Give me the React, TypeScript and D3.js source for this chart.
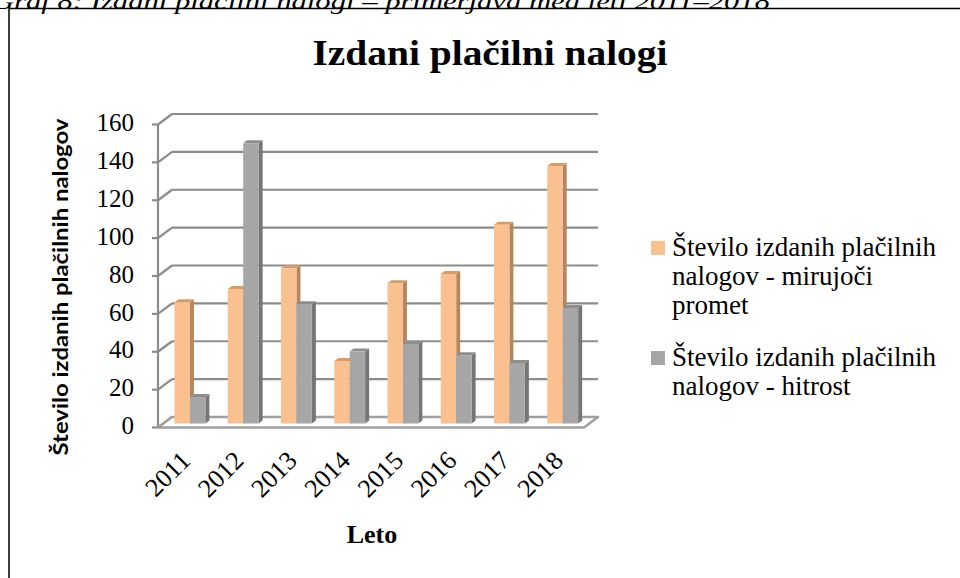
import * as d3 from "d3";

const years = ["2011", "2012", "2013", "2014", "2015", "2016", "2017", "2018"];
const parkingOrders = [64, 71, 82, 33, 74, 79, 105, 136];
const speedOrders = [14, 148, 63, 38, 42, 36, 32, 61];
const yTicks = [0, 20, 40, 60, 80, 100, 120, 140, 160];

const seriesNames = ["mirujoci", "hitrost"];
const legendLines = [
  ["Število izdanih plačilnih", "nalogov - mirujoči", "promet"],
  ["Število izdanih plačilnih", "nalogov - hitrost"],
];

// faces: front, side, top
const palette = {
  mirujoci: ["#FAC090", "#B5875F", "#CF9F73"],
  hitrost: ["#A6A6A6", "#767676", "#8E8E8E"],
};

const W = 960;
const H = 578;

// oblique depth of the floor / side wall
const DEPTH_X = 14;
const DEPTH_Y = -10.5;
const BAR_AT = 0.38; // where the bars sit in the depth
const BAR_DX = 4;
const BAR_DY = -3;

const frontX0 = 158;
const frontX1 = 584;
const frontY0 = 427.5;
const frontY1 = 124.5;

const yFront = d3.scaleLinear().domain([0, 160]).range([frontY0, frontY1]);
const yBack = d3.scaleLinear().domain([0, 160]).range([frontY0 + DEPTH_Y, frontY1 + DEPTH_Y]);
const yBar = d3
  .scaleLinear()
  .domain([0, 160])
  .range([frontY0 + DEPTH_Y * BAR_AT, frontY1 + DEPTH_Y * BAR_AT]);

const x = d3
  .scaleBand<string>()
  .domain(years)
  .range([frontX0 + DEPTH_X * BAR_AT, frontX1 + DEPTH_X * BAR_AT]);

const pairWidth = x.bandwidth() * 0.58;
const xSeries = d3.scaleBand<string>().domain(seriesNames).range([0, pairWidth]);

const serif = "'Liberation Serif', 'Times New Roman', serif";
const sans = "Lato, 'Open Sans', sans-serif";

function Bar({ x0, w, value, colors }: { x0: number; w: number; value: number; colors: string[] }) {
  const yb = yBar(0);
  const yt = yBar(value);
  const front = `M${x0},${yb}V${yt}H${x0 + w}V${yb}Z`;
  const side = `M${x0 + w},${yb}V${yt}l${BAR_DX},${BAR_DY}V${yb + BAR_DY}Z`;
  const top = `M${x0},${yt}l${BAR_DX},${BAR_DY}H${x0 + w + BAR_DX}l${-BAR_DX},${-BAR_DY}Z`;
  return (
    <g>
      <path d={side} fill={colors[1]} />
      <path d={top} fill={colors[2]} />
      <path d={front} fill={colors[0]} />
    </g>
  );
}

export default function App() {
  const gridColor = "#8C8C8C";
  const floor = `M${frontX0},${frontY0}H${frontX1}l${DEPTH_X},${DEPTH_Y}H${frontX0 + DEPTH_X}Z`;

  return (
    <svg
      width={W}
      height={H}
      style={{ position: "absolute", left: 0, top: 0, background: "#fff" }}
    >
      <rect x={9} y={8.5} width={1000} height={700} fill="none" stroke="#000" strokeWidth={1.5} />
      <text
        x={-8}
        y={9}
        fontFamily={serif}
        fontStyle="italic"
        fontSize={24}
        textLength={778}
        lengthAdjust="spacingAndGlyphs"
      >
        Graf 8: Izdani plačilni nalogi – primerjava med leti 2011–2018
      </text>

      <text
        x={490}
        y={65}
        textAnchor="middle"
        fontFamily={serif}
        fontWeight="bold"
        fontSize={35}
        textLength={355}
        lengthAdjust="spacingAndGlyphs"
      >
        Izdani plačilni nalogi
      </text>

      {/* back wall gridlines and side wall diagonals */}
      {yTicks.map((t) => (
        <g key={t} stroke={gridColor} strokeWidth={2.2} fill="none">
          {t > 0 && (
            <line x1={frontX0 + DEPTH_X} x2={frontX1 + DEPTH_X} y1={yBack(t)} y2={yBack(t)} />
          )}
          <line x1={frontX0} y1={yFront(t)} x2={frontX0 + DEPTH_X} y2={yBack(t)} />
          <line x1={frontX0 - 6} x2={frontX0} y1={yFront(t)} y2={yFront(t)} />
        </g>
      ))}
      <path d={floor} fill="#fff" stroke="#A0A0A0" strokeWidth={2.5} strokeLinejoin="round" />
      <line
        x1={frontX0}
        x2={frontX0}
        y1={yFront(0)}
        y2={yFront(160)}
        stroke={gridColor}
        strokeWidth={2.2}
      />

      {/* y tick labels */}
      {yTicks.map((t) => (
        <text
          key={t}
          x={134}
          y={yFront(t) + 1}
          dominantBaseline="middle"
          textAnchor="end"
          fontFamily={serif}
          fontSize={25}
        >
          {t}
        </text>
      ))}

      {/* bars */}
      {years.map((yr, i) => {
        const start = (x(yr) ?? 0) + (x.bandwidth() - pairWidth) / 2;
        const w = xSeries.bandwidth();
        return (
          <g key={yr}>
            <Bar x0={start + (xSeries("mirujoci") ?? 0)} w={w} value={parkingOrders[i]} colors={palette.mirujoci} />
            <Bar x0={start + (xSeries("hitrost") ?? 0)} w={w} value={speedOrders[i]} colors={palette.hitrost} />
          </g>
        );
      })}

      {/* x labels */}
      {years.map((yr) => {
        const cx = (x(yr) ?? 0) + x.bandwidth() / 2 + 2;
        return (
          <text
            key={yr}
            transform={`translate(${cx},462) rotate(-45)`}
            textAnchor="end"
            fontFamily={serif}
            fontSize={26}
          >
            {yr}
          </text>
        );
      })}

      <text x={372} y={543} textAnchor="middle" fontFamily={serif} fontWeight="bold" fontSize={26}>
        Leto
      </text>

      <text
        transform="translate(68,287) rotate(-90)"
        textAnchor="middle"
        fontFamily={sans}
        fontWeight="bold"
        fontSize={20}
        textLength={337}
        lengthAdjust="spacingAndGlyphs"
      >
        Število izdanih plačilnih nalogov
      </text>

      {/* legend */}
      {legendLines.map((lines, k) => {
        const top = k === 0 ? 256 : 366;
        return (
          <g key={k}>
            <rect x={651} y={top - 15} width={14} height={14} fill={palette[seriesNames[k] as "mirujoci" | "hitrost"][0]} />
            {lines.map((ln, j) => (
              <text key={j} x={672} y={top + j * 29} fontFamily={serif} fontSize={27}>
                {ln}
              </text>
            ))}
          </g>
        );
      })}
    </svg>
  );
}
